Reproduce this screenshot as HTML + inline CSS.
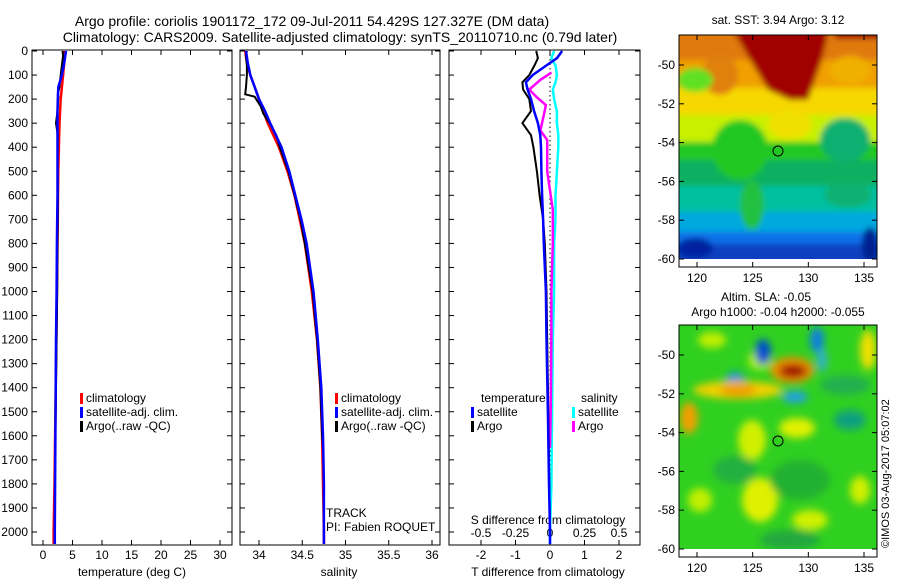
<!DOCTYPE html>
<html><head><meta charset="utf-8">
<style>
html,body{margin:0;padding:0;background:#fff;}
svg{display:block;font-family:"Liberation Sans",sans-serif;}
</style></head>
<body>
<svg id="chart" width="900" height="580" viewBox="0 0 900 580">
<defs>
<filter id="blur3" x="-20%" y="-20%" width="140%" height="140%"><feGaussianBlur stdDeviation="3"/></filter>
<filter id="blur6" x="-30%" y="-30%" width="160%" height="160%"><feGaussianBlur stdDeviation="4"/></filter>
<clipPath id="clipTop"><rect x="679" y="35" width="198" height="224"/></clipPath>
<clipPath id="clipBot"><rect x="679" y="325" width="198" height="224"/></clipPath>
<clipPath id="clipP1"><rect x="32" y="50" width="200" height="495"/></clipPath>
<clipPath id="clipP2"><rect x="240" y="50" width="200" height="495"/></clipPath>
<clipPath id="clipP3"><rect x="449" y="50" width="191" height="495"/></clipPath>
</defs>
<text x="312" y="26" font-size="14" text-anchor="middle">Argo profile: coriolis 1901172_172 09-Jul-2011 54.429S 127.327E (DM data)</text>
<text x="340" y="42" font-size="14" text-anchor="middle">Climatology: CARS2009. Satellite-adjusted climatology: synTS_20110710.nc (0.79d later)</text>

<!-- Top map (SST) -->
<g clip-path="url(#clipTop)">
  <rect x="679" y="35" width="198" height="224" fill="#009020"/>
  <g filter="url(#blur3)">
    <rect x="670" y="25" width="220" height="40" fill="#e07a10"/>
    <rect x="670" y="60" width="220" height="30" fill="#f0a000"/>
    <rect x="670" y="88" width="220" height="30" fill="#f6d800"/>
    <rect x="670" y="115" width="220" height="30" fill="#c8f000"/>
    <rect x="670" y="142" width="220" height="20" fill="#20c820"/>
    <rect x="670" y="160" width="220" height="28" fill="#10b060"/>
    <rect x="670" y="186" width="220" height="28" fill="#00c0a0"/>
    <rect x="670" y="212" width="220" height="22" fill="#00a8e0"/>
    <rect x="670" y="232" width="220" height="14" fill="#1070e8"/>
    <rect x="670" y="244" width="220" height="20" fill="#1040c0"/>
    <path d="M730 25 L830 25 L822 60 L808 100 L790 100 L768 90 L750 60 Z" fill="#a00000"/>
    <rect x="835" y="25" width="50" height="14" fill="#a00000"/>
    <ellipse cx="720" cy="75" rx="18" ry="20" fill="#e08010"/>
    <ellipse cx="850" cy="70" rx="20" ry="14" fill="#f0b000"/>
    <ellipse cx="695" cy="80" rx="18" ry="12" fill="#60e020"/>
    <ellipse cx="740" cy="150" rx="28" ry="30" fill="#20c820"/>
    <ellipse cx="845" cy="140" rx="25" ry="22" fill="#10b070"/>
    <ellipse cx="790" cy="125" rx="22" ry="14" fill="#f0e000"/>
    <ellipse cx="848" cy="195" rx="24" ry="12" fill="#10b070"/>
    <ellipse cx="752" cy="205" rx="12" ry="25" fill="#20c040"/>
    <ellipse cx="870" cy="245" rx="8" ry="18" fill="#002090"/>
    <ellipse cx="695" cy="248" rx="18" ry="10" fill="#0020a0"/>
  </g>
</g>
<rect x="679" y="35" width="198" height="232" fill="none" stroke="#000"/>
<circle cx="778" cy="151" r="5" fill="none" stroke="#000"/>
<text x="778" y="24" font-size="12" text-anchor="middle">sat. SST: 3.94 Argo: 3.12</text>

<!-- Bottom map (SLA) -->
<g clip-path="url(#clipBot)">
  <rect x="679" y="325" width="198" height="224" fill="#30d020"/>
  <g filter="url(#blur6)">
    <ellipse cx="760" cy="360" rx="12" ry="10" fill="#b0f000"/>
    <ellipse cx="712" cy="340" rx="14" ry="8" fill="#c0f000"/>
    <ellipse cx="735" cy="382" rx="10" ry="10" fill="#1090e0"/>
    <ellipse cx="763" cy="352" rx="8" ry="13" fill="#0050d0"/>
    <ellipse cx="817" cy="340" rx="7" ry="13" fill="#1080e0"/>
    <ellipse cx="822" cy="360" rx="5" ry="12" fill="#30b0d0"/>
    <ellipse cx="738" cy="390" rx="45" ry="9" fill="#f0d000"/>
    <ellipse cx="738" cy="390" rx="18" ry="7" fill="#f0a000"/>
    <ellipse cx="792" cy="370" rx="22" ry="13" fill="#f09000"/>
    <ellipse cx="793" cy="371" rx="14" ry="7" fill="#a01000"/>
    <ellipse cx="689" cy="418" rx="9" ry="16" fill="#f0a000"/>
    <ellipse cx="795" cy="397" rx="13" ry="6" fill="#20a0e0"/>
    <ellipse cx="797" cy="428" rx="18" ry="10" fill="#e0f000"/>
    <ellipse cx="752" cy="440" rx="14" ry="20" fill="#d0f000"/>
    <ellipse cx="735" cy="470" rx="22" ry="14" fill="#20b040"/>
    <ellipse cx="850" cy="420" rx="16" ry="10" fill="#10a080"/>
    <ellipse cx="845" cy="385" rx="25" ry="10" fill="#20b050"/>
    <ellipse cx="760" cy="500" rx="18" ry="22" fill="#e0f000"/>
    <ellipse cx="810" cy="520" rx="18" ry="10" fill="#d0f000"/>
    <ellipse cx="860" cy="490" rx="10" ry="14" fill="#d0f000"/>
    <ellipse cx="800" cy="480" rx="30" ry="20" fill="#20b030"/>
    <ellipse cx="790" cy="540" rx="30" ry="10" fill="#20a840"/>
    <ellipse cx="700" cy="500" rx="12" ry="12" fill="#c0f000"/>
    <ellipse cx="868" cy="350" rx="8" ry="20" fill="#f0e000"/>
  </g>
</g>
<rect x="679" y="325" width="198" height="232" fill="none" stroke="#000"/>
<circle cx="778" cy="441" r="5" fill="none" stroke="#000"/>
<text x="766" y="301" font-size="12" text-anchor="middle">Altim. SLA: -0.05</text>
<text x="778" y="316" font-size="12" text-anchor="middle">Argo h1000: -0.04 h2000: -0.055</text>
<text transform="translate(889,548) rotate(-90)" font-size="11">©IMOS 03-Aug-2017 05:07:02</text>

<g id="dyn"></g>
</svg>
<script>
// ---- data ----
const depthTicks = [0,100,200,300,400,500,600,700,800,900,1000,1100,1200,1300,1400,1500,1600,1700,1800,1900,2000];
const tempTicks = [0,5,10,15,20,25,30];
const salTicks = [34,34.5,35,35.5,36];
const salTickLabels = ["34","34.5","35","35.5","36"];
const tdiffTicks = [-2,-1,0,1,2];
const sdiffTicks = [-0.5,-0.25,0,0.25,0.5];
const lonTicks = [120,125,130,135];
const latTicks = [-50,-52,-54,-56,-58,-60];

const climDepth = [0,50,100,150,200,250,300,400,500,600,700,800,1000,1200,1400,1600,1800,2000,2050];
const tempClim = [3.7,3.6,3.4,3.2,3.0,2.9,2.8,2.7,2.6,2.55,2.5,2.45,2.35,2.25,2.15,2.05,1.95,1.8,1.8];
const tempSat  = [3.9,3.6,3.2,2.6,2.5,2.45,2.45,2.45,2.45,2.45,2.4,2.35,2.3,2.2,2.15,2.1,2.05,2.0,2.0];
const salClim = [33.84,33.86,33.9,33.95,34.0,34.05,34.1,34.23,34.33,34.41,34.47,34.53,34.61,34.67,34.71,34.73,34.74,34.75,34.75];
const salSat  = [33.85,33.87,33.9,33.95,34.0,34.07,34.13,34.26,34.35,34.42,34.49,34.55,34.63,34.68,34.72,34.74,34.75,34.75,34.75];

const argoDepth = [0,20,60,100,150,180,190,230,260,300,350,400,500,600,700,800,1000,1200,1400,1600,1650];
const tempArgo = [3.3,3.4,3.2,3.0,2.8,2.5,2.6,2.5,2.4,2.2,2.5,2.45,2.45,2.5,2.5,2.45,2.4,2.3,2.2,2.1,2.1];
const salArgo  = [33.86,33.85,33.86,33.86,33.85,33.84,33.95,34.02,34.05,34.12,34.2,34.24,34.34,34.41,34.48,34.53,34.62,34.67,34.71,34.73,34.74];

const diffDepth = [0,30,60,100,130,160,200,250,300,350,400,500,600,700,800,1000,1200,1500,1800,2000,2050];
const tdiffSat  = [0.35,0.2,-0.1,-0.5,-0.7,-0.65,-0.55,-0.46,-0.35,-0.28,-0.26,-0.25,-0.23,-0.2,-0.18,-0.12,-0.1,-0.06,-0.03,0,0];
const tdiffArgo = [-0.4,-0.35,-0.45,-0.6,-0.8,-0.78,-0.6,-0.55,-0.8,-0.55,-0.48,-0.38,-0.3,-0.2,-0.15,-0.1,-0.08,-0.05,-0.02,0,0];
const sdiffSat  = [0.03,0.01,0.04,0.05,0.04,0.02,0.03,0.05,0.05,0.06,0.06,0.05,0.04,0.04,0.03,0.03,0.02,0.015,0.01,0,0];
const sdiffArgoDepth = [90,120,160,190,225,280,330,370,500,660,800,1000,1200,1500,1650];
const sdiffArgo = [0.01,-0.07,-0.15,-0.1,-0.03,-0.05,-0.07,-0.02,-0.02,0.02,0.02,0.01,0.01,0.005,0];

// ---- scales ----
const yD = d => 51 + d*0.2405;
const xT = t => 43 + t*5.9;
const xS = s => 259 + (s-34)*86.5;
const xTd = v => 550 + v*34.5;
const xSd = v => 550 + v*138;
const xLon = l => 697 + (l-120)*(167/15);
const yLatTop = l => 65 + (-50-l)*19.4;
const yLatBot = l => 355 + (-50-l)*19.4;

const NS = "http://www.w3.org/2000/svg";
const g = document.getElementById('dyn');
function mk(tag, attrs, parent){ const e=document.createElementNS(NS,tag); for(const k in attrs) e.setAttribute(k,attrs[k]); (parent||g).appendChild(e); return e; }
function txt(x,y,s,anchor,size,parent){ const e=mk('text',{x:x,y:y,'font-size':size||12,'text-anchor':anchor||'middle'},parent); e.textContent=s; return e; }
function stepPath(xs, ds, xf){ let p=''; for(let i=0;i<xs.length;i++){ const x=xf(xs[i]).toFixed(1), y=yD(ds[i]).toFixed(1); p += (i? 'L':'M')+x+' '+y; } return p; }

const panels = [[32,232,'clipP1'],[240,440,'clipP2'],[449,640,'clipP3']];
panels.forEach((p,i)=>{
  const r = mk('rect',{x:p[0],y:50,width:p[1]-p[0],height:495,fill:'none',stroke:'#000'});
  
  
  depthTicks.forEach(d=>{
    mk('line',{x1:p[0],x2:p[0]+5,y1:yD(d),y2:yD(d),stroke:'#000'});
    mk('line',{x1:p[1]-5,x2:p[1],y1:yD(d),y2:yD(d),stroke:'#000'});
  });
});
depthTicks.forEach(d=>{
  const t = txt(28,yD(d)+4,String(d),'end',12);
  
  
});
function xticks(vals, xf, labels, y){
  vals.forEach((v,i)=>{
    const x = xf(v);
    mk('line',{x1:x,x2:x,y1:545,y2:540,stroke:'#000'});
    mk('line',{x1:x,x2:x,y1:50,y2:55,stroke:'#000'});
    const t = txt(x,y,labels?labels[i]:String(v),'middle',12);
    
    
  });
}
xticks(tempTicks,xT,null,559);
xticks(salTicks,xS,salTickLabels,559);
xticks(tdiffTicks,xTd,null,559);
sdiffTicks.forEach(v=>{
  const t = txt(xSd(v),537,String(v),'middle',12);
  
  
});
let t;
t = txt(132,576,'temperature (deg C)');  
t = txt(339,576,'salinity');  
t = txt(548,576,'T difference from climatology');  
t = txt(548,524,'S difference from climatology');  
t = txt(326,517,'TRACK','start');  
t = txt(326,531,'PI: Fabien ROQUET','start');  

function line(d, color, name, clip, w){
  const e = mk('path',{d:d,fill:'none',stroke:color,'stroke-width':w||2.5,'clip-path':'url(#'+clip+')'});
  
  
}
line(stepPath(tempClim,climDepth,xT),'#f00','temp-climatology-line','clipP1');
line(stepPath(tempArgo,argoDepth,xT),'#000','temp-argo-line','clipP1',2);
line(stepPath(tempSat,climDepth,xT),'#00f','temp-satellite-line','clipP1');
line(stepPath(salClim,climDepth,xS),'#f00','sal-climatology-line','clipP2');
line(stepPath(salArgo,argoDepth,xS),'#000','sal-argo-line','clipP2',2);
line(stepPath(salSat,climDepth,xS),'#00f','sal-satellite-line','clipP2');
const zl = mk('line',{x1:550,x2:550,y1:50,y2:545,stroke:'#000','stroke-dasharray':'1.5,3'});


line(stepPath(sdiffSat,diffDepth,xSd),'#0ff','sdiff-satellite-line','clipP3');
line(stepPath(sdiffArgo,sdiffArgoDepth,xSd),'#f0f','sdiff-argo-line','clipP3');
line(stepPath(tdiffArgo,diffDepth,xTd),'#000','tdiff-argo-line','clipP3',2);
line(stepPath(tdiffSat,diffDepth,xTd),'#00f','tdiff-satellite-line','clipP3');

function legend(x,y,color,label,name){
  const r = mk('rect',{x:x,y:y-9,width:3,height:11,fill:color});
  
  
  const e = txt(x+6,y,label,'start',12);
  
  
}
[[80,'p1'],[335,'p2']].forEach(([x,p])=>{
  legend(x,402,'#f00','climatology','legend-climatology-'+p);
  legend(x,416,'#00f','satellite-adj. clim.','legend-satellite-'+p);
  legend(x,430,'#000','Argo(..raw -QC)','legend-argo-'+p);
});
t = txt(481,402,'temperature','start');  
t = txt(581,402,'salinity','start');  
legend(471,416,'#00f','satellite','legend-t-satellite');
legend(471,430,'#000','Argo','legend-t-argo');
legend(572,416,'#0ff','satellite','legend-s-satellite');
legend(572,430,'#f0f','Argo','legend-s-argo');

[[35,267,yLatTop],[325,557,yLatBot]].forEach(([top,bot,yl],mi)=>{
  lonTicks.forEach(l=>{
    const x = xLon(l);
    mk('line',{x1:x,x2:x,y1:top,y2:top+5,stroke:'#000'});
    mk('line',{x1:x,x2:x,y1:bot,y2:bot-5,stroke:'#000'});
    const e = txt(x,bot+15,String(l),'middle',12);
    
    
  });
  latTicks.forEach(l=>{
    const y = yl(l);
    mk('line',{x1:679,x2:684,y1:y,y2:y,stroke:'#000'});
    mk('line',{x1:872,x2:877,y1:y,y2:y,stroke:'#000'});
    const e = txt(675,y+4,String(l),'end',12);
    
    
  });
});
</script>
</body></html>
